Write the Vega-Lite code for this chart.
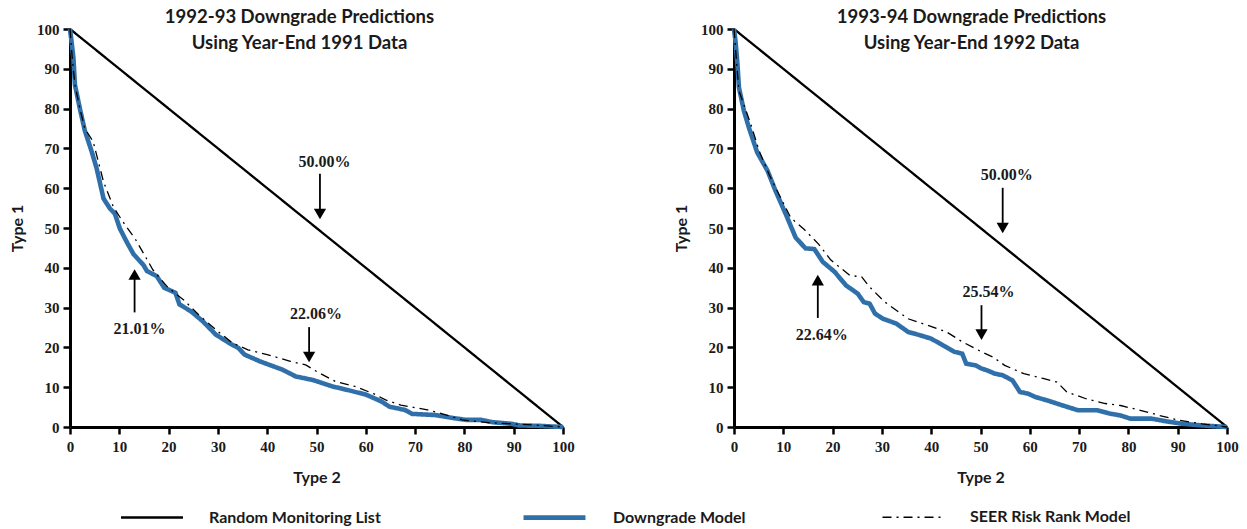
{
  "$schema": "https://vega.github.io/schema/vega-lite/v6.json",
  "padding": {"left": 9, "top": 8, "right": 5, "bottom": 0},
  "background": "white",
  "datasets": {
    "curves": [
      {"p": "A", "s": "Random Monitoring List", "x": 0, "y": 100},
      {"p": "A", "s": "Random Monitoring List", "x": 100, "y": 0},
      {"p": "A", "s": "Downgrade Model", "x": 0, "y": 100},
      {"p": "A", "s": "Downgrade Model", "x": 0.3, "y": 97},
      {"p": "A", "s": "Downgrade Model", "x": 0.7, "y": 92.6},
      {"p": "A", "s": "Downgrade Model", "x": 1, "y": 86},
      {"p": "A", "s": "Downgrade Model", "x": 2, "y": 80},
      {"p": "A", "s": "Downgrade Model", "x": 3, "y": 74.5},
      {"p": "A", "s": "Downgrade Model", "x": 4.4, "y": 69.2},
      {"p": "A", "s": "Downgrade Model", "x": 5.4, "y": 65},
      {"p": "A", "s": "Downgrade Model", "x": 6.8, "y": 57.4},
      {"p": "A", "s": "Downgrade Model", "x": 8.1, "y": 54.9},
      {"p": "A", "s": "Downgrade Model", "x": 9.1, "y": 53.6},
      {"p": "A", "s": "Downgrade Model", "x": 10.1, "y": 49.9},
      {"p": "A", "s": "Downgrade Model", "x": 11.5, "y": 46.5},
      {"p": "A", "s": "Downgrade Model", "x": 12.9, "y": 43.4},
      {"p": "A", "s": "Downgrade Model", "x": 14.9, "y": 40.7},
      {"p": "A", "s": "Downgrade Model", "x": 15.6, "y": 39.2},
      {"p": "A", "s": "Downgrade Model", "x": 17.6, "y": 37.9},
      {"p": "A", "s": "Downgrade Model", "x": 19.1, "y": 35},
      {"p": "A", "s": "Downgrade Model", "x": 21.4, "y": 33.7},
      {"p": "A", "s": "Downgrade Model", "x": 22.2, "y": 30.8},
      {"p": "A", "s": "Downgrade Model", "x": 24.5, "y": 29.1},
      {"p": "A", "s": "Downgrade Model", "x": 26.9, "y": 26.6},
      {"p": "A", "s": "Downgrade Model", "x": 29.6, "y": 23.2},
      {"p": "A", "s": "Downgrade Model", "x": 32.3, "y": 21.1},
      {"p": "A", "s": "Downgrade Model", "x": 34.2, "y": 19.8},
      {"p": "A", "s": "Downgrade Model", "x": 35.4, "y": 18.2},
      {"p": "A", "s": "Downgrade Model", "x": 38.5, "y": 16.5},
      {"p": "A", "s": "Downgrade Model", "x": 43.1, "y": 14.4},
      {"p": "A", "s": "Downgrade Model", "x": 45.8, "y": 12.7},
      {"p": "A", "s": "Downgrade Model", "x": 49.3, "y": 11.8},
      {"p": "A", "s": "Downgrade Model", "x": 53.2, "y": 10.2},
      {"p": "A", "s": "Downgrade Model", "x": 56.3, "y": 9.3},
      {"p": "A", "s": "Downgrade Model", "x": 60.1, "y": 8.1},
      {"p": "A", "s": "Downgrade Model", "x": 63.2, "y": 6.4},
      {"p": "A", "s": "Downgrade Model", "x": 64.8, "y": 5.1},
      {"p": "A", "s": "Downgrade Model", "x": 67.9, "y": 4.3},
      {"p": "A", "s": "Downgrade Model", "x": 69.4, "y": 3.3},
      {"p": "A", "s": "Downgrade Model", "x": 74.1, "y": 3.0},
      {"p": "A", "s": "Downgrade Model", "x": 78, "y": 2.2},
      {"p": "A", "s": "Downgrade Model", "x": 80.3, "y": 1.8},
      {"p": "A", "s": "Downgrade Model", "x": 83.4, "y": 1.8},
      {"p": "A", "s": "Downgrade Model", "x": 85.7, "y": 1.2},
      {"p": "A", "s": "Downgrade Model", "x": 89.6, "y": 0.8},
      {"p": "A", "s": "Downgrade Model", "x": 91.1, "y": 0.4},
      {"p": "A", "s": "Downgrade Model", "x": 95, "y": 0.3},
      {"p": "A", "s": "Downgrade Model", "x": 100, "y": 0},
      {"p": "A", "s": "SEER Risk Rank Model", "x": 0, "y": 100},
      {"p": "A", "s": "SEER Risk Rank Model", "x": 0.5, "y": 92},
      {"p": "A", "s": "SEER Risk Rank Model", "x": 1, "y": 86},
      {"p": "A", "s": "SEER Risk Rank Model", "x": 2, "y": 80},
      {"p": "A", "s": "SEER Risk Rank Model", "x": 3, "y": 75},
      {"p": "A", "s": "SEER Risk Rank Model", "x": 4.7, "y": 71.7},
      {"p": "A", "s": "SEER Risk Rank Model", "x": 6.8, "y": 61.6},
      {"p": "A", "s": "SEER Risk Rank Model", "x": 8.8, "y": 55.3},
      {"p": "A", "s": "SEER Risk Rank Model", "x": 10.5, "y": 52},
      {"p": "A", "s": "SEER Risk Rank Model", "x": 12.2, "y": 49},
      {"p": "A", "s": "SEER Risk Rank Model", "x": 13.3, "y": 47.1},
      {"p": "A", "s": "SEER Risk Rank Model", "x": 15.9, "y": 41.5},
      {"p": "A", "s": "SEER Risk Rank Model", "x": 16.8, "y": 39.5},
      {"p": "A", "s": "SEER Risk Rank Model", "x": 19.9, "y": 35},
      {"p": "A", "s": "SEER Risk Rank Model", "x": 23, "y": 32},
      {"p": "A", "s": "SEER Risk Rank Model", "x": 26.1, "y": 28.2},
      {"p": "A", "s": "SEER Risk Rank Model", "x": 30, "y": 24},
      {"p": "A", "s": "SEER Risk Rank Model", "x": 33, "y": 21.1},
      {"p": "A", "s": "SEER Risk Rank Model", "x": 36.1, "y": 19.4},
      {"p": "A", "s": "SEER Risk Rank Model", "x": 40, "y": 18.2},
      {"p": "A", "s": "SEER Risk Rank Model", "x": 44.7, "y": 16.5},
      {"p": "A", "s": "SEER Risk Rank Model", "x": 47.8, "y": 15.6},
      {"p": "A", "s": "SEER Risk Rank Model", "x": 50.1, "y": 13.9},
      {"p": "A", "s": "SEER Risk Rank Model", "x": 53.9, "y": 11.4},
      {"p": "A", "s": "SEER Risk Rank Model", "x": 57.8, "y": 10.2},
      {"p": "A", "s": "SEER Risk Rank Model", "x": 61.7, "y": 8.3},
      {"p": "A", "s": "SEER Risk Rank Model", "x": 64, "y": 6.8},
      {"p": "A", "s": "SEER Risk Rank Model", "x": 67.1, "y": 5.5},
      {"p": "A", "s": "SEER Risk Rank Model", "x": 72.5, "y": 4.3},
      {"p": "A", "s": "SEER Risk Rank Model", "x": 76.4, "y": 3},
      {"p": "A", "s": "SEER Risk Rank Model", "x": 79.5, "y": 1.8},
      {"p": "A", "s": "SEER Risk Rank Model", "x": 84.9, "y": 1.1},
      {"p": "A", "s": "SEER Risk Rank Model", "x": 89.6, "y": 0.8},
      {"p": "A", "s": "SEER Risk Rank Model", "x": 94.2, "y": 0.5},
      {"p": "A", "s": "SEER Risk Rank Model", "x": 100, "y": 0},
      {"p": "B", "s": "Random Monitoring List", "x": 0, "y": 100},
      {"p": "B", "s": "Random Monitoring List", "x": 100, "y": 0},
      {"p": "B", "s": "Downgrade Model", "x": 0, "y": 100},
      {"p": "B", "s": "Downgrade Model", "x": 0.3, "y": 97},
      {"p": "B", "s": "Downgrade Model", "x": 0.7, "y": 91.2},
      {"p": "B", "s": "Downgrade Model", "x": 1, "y": 85.3},
      {"p": "B", "s": "Downgrade Model", "x": 2, "y": 79.5},
      {"p": "B", "s": "Downgrade Model", "x": 3, "y": 75.3},
      {"p": "B", "s": "Downgrade Model", "x": 4.7, "y": 69},
      {"p": "B", "s": "Downgrade Model", "x": 6.8, "y": 64.4},
      {"p": "B", "s": "Downgrade Model", "x": 8.4, "y": 59.4},
      {"p": "B", "s": "Downgrade Model", "x": 10.5, "y": 53.5},
      {"p": "B", "s": "Downgrade Model", "x": 12.5, "y": 47.6},
      {"p": "B", "s": "Downgrade Model", "x": 14.5, "y": 44.9},
      {"p": "B", "s": "Downgrade Model", "x": 16.3, "y": 44.7},
      {"p": "B", "s": "Downgrade Model", "x": 18, "y": 41.5},
      {"p": "B", "s": "Downgrade Model", "x": 20.4, "y": 39},
      {"p": "B", "s": "Downgrade Model", "x": 22.7, "y": 35.6},
      {"p": "B", "s": "Downgrade Model", "x": 25.1, "y": 33.5},
      {"p": "B", "s": "Downgrade Model", "x": 26.3, "y": 31.4},
      {"p": "B", "s": "Downgrade Model", "x": 27.5, "y": 31},
      {"p": "B", "s": "Downgrade Model", "x": 28.6, "y": 28.5},
      {"p": "B", "s": "Downgrade Model", "x": 30.2, "y": 27.2},
      {"p": "B", "s": "Downgrade Model", "x": 32.9, "y": 26},
      {"p": "B", "s": "Downgrade Model", "x": 35.3, "y": 23.9},
      {"p": "B", "s": "Downgrade Model", "x": 37.6, "y": 23.1},
      {"p": "B", "s": "Downgrade Model", "x": 40, "y": 22.2},
      {"p": "B", "s": "Downgrade Model", "x": 42.4, "y": 20.5},
      {"p": "B", "s": "Downgrade Model", "x": 44.7, "y": 18.9},
      {"p": "B", "s": "Downgrade Model", "x": 46.3, "y": 18.4},
      {"p": "B", "s": "Downgrade Model", "x": 47.1, "y": 15.9},
      {"p": "B", "s": "Downgrade Model", "x": 49, "y": 15.5},
      {"p": "B", "s": "Downgrade Model", "x": 50.2, "y": 14.7},
      {"p": "B", "s": "Downgrade Model", "x": 51.4, "y": 14.2},
      {"p": "B", "s": "Downgrade Model", "x": 52.9, "y": 13.4},
      {"p": "B", "s": "Downgrade Model", "x": 54.5, "y": 13},
      {"p": "B", "s": "Downgrade Model", "x": 56.5, "y": 11.7},
      {"p": "B", "s": "Downgrade Model", "x": 58, "y": 8.8},
      {"p": "B", "s": "Downgrade Model", "x": 59.6, "y": 8.4},
      {"p": "B", "s": "Downgrade Model", "x": 61.2, "y": 7.5},
      {"p": "B", "s": "Downgrade Model", "x": 63.5, "y": 6.7},
      {"p": "B", "s": "Downgrade Model", "x": 66.7, "y": 5.4},
      {"p": "B", "s": "Downgrade Model", "x": 69.8, "y": 4.2},
      {"p": "B", "s": "Downgrade Model", "x": 73.7, "y": 4.2},
      {"p": "B", "s": "Downgrade Model", "x": 76.1, "y": 3.4},
      {"p": "B", "s": "Downgrade Model", "x": 78.4, "y": 2.9},
      {"p": "B", "s": "Downgrade Model", "x": 80.4, "y": 2.1},
      {"p": "B", "s": "Downgrade Model", "x": 84.7, "y": 2.1},
      {"p": "B", "s": "Downgrade Model", "x": 87.8, "y": 1.4},
      {"p": "B", "s": "Downgrade Model", "x": 91, "y": 0.8},
      {"p": "B", "s": "Downgrade Model", "x": 94.9, "y": 0.4},
      {"p": "B", "s": "Downgrade Model", "x": 100, "y": 0},
      {"p": "B", "s": "SEER Risk Rank Model", "x": 0, "y": 100},
      {"p": "B", "s": "SEER Risk Rank Model", "x": 0.5, "y": 92},
      {"p": "B", "s": "SEER Risk Rank Model", "x": 1, "y": 84.5},
      {"p": "B", "s": "SEER Risk Rank Model", "x": 3.4, "y": 76.1},
      {"p": "B", "s": "SEER Risk Rank Model", "x": 5.1, "y": 69.4},
      {"p": "B", "s": "SEER Risk Rank Model", "x": 7.1, "y": 63.5},
      {"p": "B", "s": "SEER Risk Rank Model", "x": 9.1, "y": 58.5},
      {"p": "B", "s": "SEER Risk Rank Model", "x": 11.5, "y": 52.6},
      {"p": "B", "s": "SEER Risk Rank Model", "x": 14.2, "y": 49.7},
      {"p": "B", "s": "SEER Risk Rank Model", "x": 17.2, "y": 45.9},
      {"p": "B", "s": "SEER Risk Rank Model", "x": 19.6, "y": 42},
      {"p": "B", "s": "SEER Risk Rank Model", "x": 23.5, "y": 38.1},
      {"p": "B", "s": "SEER Risk Rank Model", "x": 25.9, "y": 37.7},
      {"p": "B", "s": "SEER Risk Rank Model", "x": 27.5, "y": 35.2},
      {"p": "B", "s": "SEER Risk Rank Model", "x": 30.6, "y": 31.4},
      {"p": "B", "s": "SEER Risk Rank Model", "x": 35.3, "y": 27.2},
      {"p": "B", "s": "SEER Risk Rank Model", "x": 39.2, "y": 25.6},
      {"p": "B", "s": "SEER Risk Rank Model", "x": 43.1, "y": 23.9},
      {"p": "B", "s": "SEER Risk Rank Model", "x": 46.3, "y": 21.4},
      {"p": "B", "s": "SEER Risk Rank Model", "x": 50.2, "y": 18.9},
      {"p": "B", "s": "SEER Risk Rank Model", "x": 52.5, "y": 17.6},
      {"p": "B", "s": "SEER Risk Rank Model", "x": 54.9, "y": 15.5},
      {"p": "B", "s": "SEER Risk Rank Model", "x": 58.8, "y": 13.4},
      {"p": "B", "s": "SEER Risk Rank Model", "x": 62.7, "y": 12.2},
      {"p": "B", "s": "SEER Risk Rank Model", "x": 65.5, "y": 11.3},
      {"p": "B", "s": "SEER Risk Rank Model", "x": 67.5, "y": 8.8},
      {"p": "B", "s": "SEER Risk Rank Model", "x": 71.4, "y": 7.1},
      {"p": "B", "s": "SEER Risk Rank Model", "x": 75.3, "y": 5.9},
      {"p": "B", "s": "SEER Risk Rank Model", "x": 78.4, "y": 5.4},
      {"p": "B", "s": "SEER Risk Rank Model", "x": 82.4, "y": 4.2},
      {"p": "B", "s": "SEER Risk Rank Model", "x": 86.3, "y": 2.9},
      {"p": "B", "s": "SEER Risk Rank Model", "x": 90.2, "y": 1.7},
      {"p": "B", "s": "SEER Risk Rank Model", "x": 94.9, "y": 0.8},
      {"p": "B", "s": "SEER Risk Rank Model", "x": 100, "y": 0}
    ],
    "notes": [
      {"p": "A", "label": "50.00%", "x": 51.6, "y": 66.6},
      {"p": "A", "label": "21.01%", "x": 14.1, "y": 24.6},
      {"p": "A", "label": "22.06%", "x": 49.9, "y": 28.5},
      {"p": "B", "label": "50.00%", "x": 55.3, "y": 63.3},
      {"p": "B", "label": "22.64%", "x": 17.8, "y": 23.1},
      {"p": "B", "label": "25.54%", "x": 51.6, "y": 33.9}
    ],
    "arrows": [
      {"p": "A", "x": 50.7, "tail": 63.6, "head": 53.5, "dir": "down"},
      {"p": "A", "x": 13.1, "tail": 28.8, "head": 38.3, "dir": "up"},
      {"p": "A", "x": 48.5, "tail": 25.1, "head": 17.6, "dir": "down"},
      {"p": "B", "x": 54.5, "tail": 60.1, "head": 50.0, "dir": "down"},
      {"p": "B", "x": 17.0, "tail": 27.4, "head": 36.9, "dir": "up"},
      {"p": "B", "x": 50.2, "tail": 30.6, "head": 23.2, "dir": "down"}
    ]
  },
  "hconcat": [
    {
      "width": 493,
      "height": 398,
      "title": {"text": ["1992-93 Downgrade Predictions", "Using Year-End 1991 Data"], "dx": -17},
      "layer": [
        {
          "data": {"name": "curves"},
          "transform": [{"filter": "datum.p === 'A'"}],
          "mark": {"type": "line", "clip": false},
          "encoding": {
            "x": {"field": "x", "type": "quantitative", "title": "Type 2", "scale": {"domain": [0, 100], "nice": false}, "axis": {"values": [0,10,20,30,40,50,60,70,80,90,100], "labelOverlap": false}},
            "y": {"field": "y", "type": "quantitative", "title": "Type 1", "scale": {"domain": [0, 100], "nice": false}, "axis": {"values": [0,10,20,30,40,50,60,70,80,90,100], "labelOverlap": false}},
            "color": {"field": "s", "type": "nominal", "title": null, "scale": {"domain": ["Random Monitoring List", "Downgrade Model", "SEER Risk Rank Model"], "range": ["#000000", "#3070aa", "#000000"]}},
            "strokeWidth": {"field": "s", "type": "nominal", "title": null, "scale": {"type": "ordinal", "domain": ["Random Monitoring List", "Downgrade Model", "SEER Risk Rank Model"], "range": [2.3, 4.6, 1.3]}},
            "strokeDash": {"field": "s", "type": "nominal", "title": null, "scale": {"domain": ["Random Monitoring List", "Downgrade Model", "SEER Risk Rank Model"], "range": [[1, 0], [1, 0], [9, 5, 2, 5]]}},
            "order": {"field": "x", "type": "quantitative"}
          }
        },
        {
          "data": {"name": "arrows"},
          "transform": [{"filter": "datum.p === 'A'"}],
          "mark": {"type": "rule", "color": "black", "strokeWidth": 1.8},
          "encoding": {
            "x": {"field": "x", "type": "quantitative", "axis": {"values": [0,10,20,30,40,50,60,70,80,90,100], "labelOverlap": false}},
            "y": {"field": "tail", "type": "quantitative", "axis": {"values": [0,10,20,30,40,50,60,70,80,90,100], "labelOverlap": false}},
            "y2": {"field": "head"}
          }
        },
        {
          "data": {"name": "arrows"},
          "transform": [{"filter": "datum.p === 'A'"}],
          "mark": {"type": "point", "filled": true, "color": "black", "opacity": 1, "size": 150},
          "encoding": {
            "x": {"field": "x", "type": "quantitative", "axis": {"values": [0,10,20,30,40,50,60,70,80,90,100], "labelOverlap": false}},
            "y": {"field": "head", "type": "quantitative", "axis": {"values": [0,10,20,30,40,50,60,70,80,90,100], "labelOverlap": false}},
            "shape": {"field": "dir", "type": "nominal", "scale": {"domain": ["down", "up"], "range": ["triangle-down", "triangle-up"]}, "legend": null}
          }
        },
        {
          "data": {"name": "notes"},
          "transform": [{"filter": "datum.p === 'A'"}],
          "mark": {"type": "text", "font": "Liberation Serif", "fontWeight": "bold", "fontSize": 16, "color": "#1a1a1a", "align": "center", "baseline": "middle"},
          "encoding": {
            "x": {"field": "x", "type": "quantitative", "axis": {"values": [0,10,20,30,40,50,60,70,80,90,100], "labelOverlap": false}},
            "y": {"field": "y", "type": "quantitative", "axis": {"values": [0,10,20,30,40,50,60,70,80,90,100], "labelOverlap": false}},
            "text": {"field": "label"}
          }
        }
      ]
    },
    {
      "width": 493,
      "height": 398,
      "title": {"text": ["1993-94 Downgrade Predictions", "Using Year-End 1992 Data"], "dx": -9},
      "layer": [
        {
          "data": {"name": "curves"},
          "transform": [{"filter": "datum.p === 'B'"}],
          "mark": {"type": "line", "clip": false},
          "encoding": {
            "x": {"field": "x", "type": "quantitative", "title": "Type 2", "scale": {"domain": [0, 100], "nice": false}, "axis": {"values": [0,10,20,30,40,50,60,70,80,90,100], "labelOverlap": false}},
            "y": {"field": "y", "type": "quantitative", "title": "Type 1", "scale": {"domain": [0, 100], "nice": false}, "axis": {"values": [0,10,20,30,40,50,60,70,80,90,100], "labelOverlap": false}},
            "color": {"field": "s", "type": "nominal", "title": null, "scale": {"domain": ["Random Monitoring List", "Downgrade Model", "SEER Risk Rank Model"], "range": ["#000000", "#3070aa", "#000000"]}},
            "strokeWidth": {"field": "s", "type": "nominal", "title": null, "scale": {"type": "ordinal", "domain": ["Random Monitoring List", "Downgrade Model", "SEER Risk Rank Model"], "range": [2.3, 4.6, 1.3]}},
            "strokeDash": {"field": "s", "type": "nominal", "title": null, "scale": {"domain": ["Random Monitoring List", "Downgrade Model", "SEER Risk Rank Model"], "range": [[1, 0], [1, 0], [9, 5, 2, 5]]}},
            "order": {"field": "x", "type": "quantitative"}
          }
        },
        {
          "data": {"name": "arrows"},
          "transform": [{"filter": "datum.p === 'B'"}],
          "mark": {"type": "rule", "color": "black", "strokeWidth": 1.8},
          "encoding": {
            "x": {"field": "x", "type": "quantitative", "axis": {"values": [0,10,20,30,40,50,60,70,80,90,100], "labelOverlap": false}},
            "y": {"field": "tail", "type": "quantitative", "axis": {"values": [0,10,20,30,40,50,60,70,80,90,100], "labelOverlap": false}},
            "y2": {"field": "head"}
          }
        },
        {
          "data": {"name": "arrows"},
          "transform": [{"filter": "datum.p === 'B'"}],
          "mark": {"type": "point", "filled": true, "color": "black", "opacity": 1, "size": 150},
          "encoding": {
            "x": {"field": "x", "type": "quantitative", "axis": {"values": [0,10,20,30,40,50,60,70,80,90,100], "labelOverlap": false}},
            "y": {"field": "head", "type": "quantitative", "axis": {"values": [0,10,20,30,40,50,60,70,80,90,100], "labelOverlap": false}},
            "shape": {"field": "dir", "type": "nominal", "scale": {"domain": ["down", "up"], "range": ["triangle-down", "triangle-up"]}, "legend": null}
          }
        },
        {
          "data": {"name": "notes"},
          "transform": [{"filter": "datum.p === 'B'"}],
          "mark": {"type": "text", "font": "Liberation Serif", "fontWeight": "bold", "fontSize": 16, "color": "#1a1a1a", "align": "center", "baseline": "middle"},
          "encoding": {
            "x": {"field": "x", "type": "quantitative", "axis": {"values": [0,10,20,30,40,50,60,70,80,90,100], "labelOverlap": false}},
            "y": {"field": "y", "type": "quantitative", "axis": {"values": [0,10,20,30,40,50,60,70,80,90,100], "labelOverlap": false}},
            "text": {"field": "label"}
          }
        }
      ]
    }
  ],
  "spacing": 98,
  "config": {
    "view": {"stroke": null},
    "title": {"font": "Lato", "fontSize": 18.5, "fontWeight": "bold", "color": "#1a1a1a", "anchor": "middle", "offset": -33, "lineHeight": 26},
    "axis": {
      "grid": false,
      "domainColor": "black",
      "domainWidth": 3,
      "tickColor": "black",
      "tickWidth": 2.5,
      "tickSize": 7,
      "labelFont": "Liberation Serif",
      "labelFontWeight": "bold",
      "labelFontSize": 15,
      "labelColor": "#1a1a1a",
      "labelFlush": false,
      "labelOverlap": false,
      "titleFont": "Lato",
      "titleFontWeight": "bold",
      "titleFontSize": 16,
      "titleColor": "#1a1a1a"
    },
    "axisX": {"titlePadding": 15, "labelPadding": 5},
    "axisY": {"titlePadding": 11, "labelPadding": 4},
    "legend": {
      "orient": "none",
      "legendX": 73,
      "legendY": 478,
      "padding": 0,
      "direction": "horizontal",
      "symbolType": "M-4,0H4",
      "symbolSize": 240,
      "labelFont": "Lato",
      "labelFontWeight": "bold",
      "labelFontSize": 16,
      "labelColor": "#1a1a1a",
      "labelOffset": 48,
      "labelLimit": 0,
      "columnPadding": 133
    }
  }
}
